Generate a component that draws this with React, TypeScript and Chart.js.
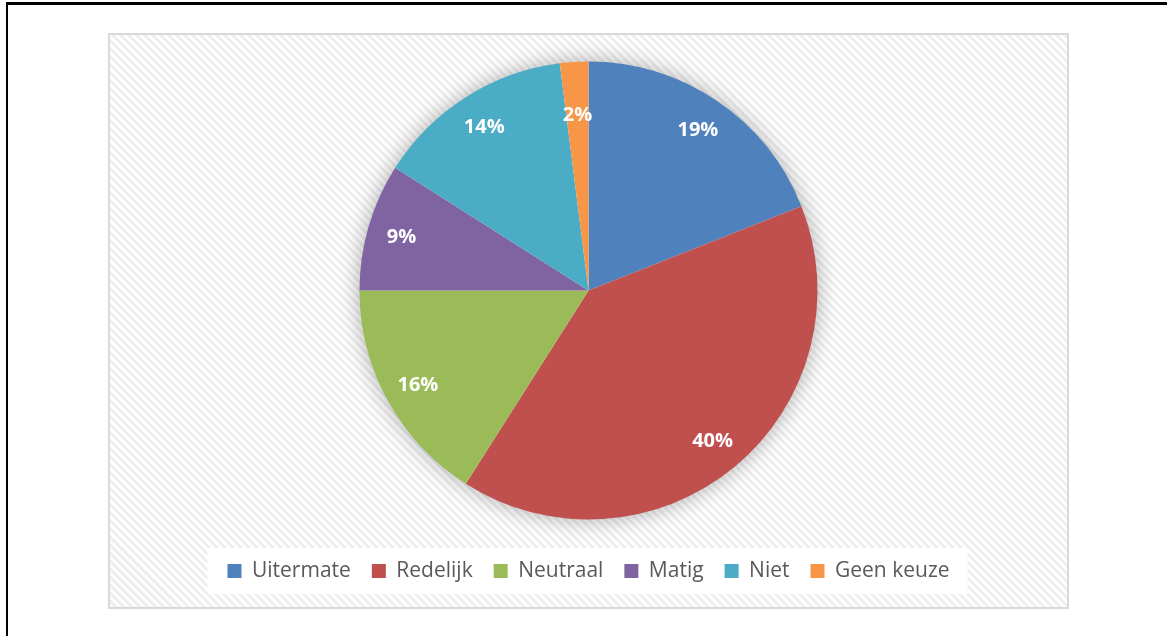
import React, { useEffect, useRef } from "react";
import { Chart, registerables } from "chart.js";

Chart.register(...registerables);

const categories = ["Uitermate", "Redelijk", "Neutraal", "Matig", "Niet", "Geen keuze"];
const values = [19, 40, 16, 9, 14, 2];
const colors = ["#4f81bd", "#c0504d", "#9bbb59", "#8064a2", "#4bacc6", "#f79646"];

const shadowPlugin = {
  id: "pieShadow",
  beforeDatasetsDraw(chart: any) {
    const meta = chart.getDatasetMeta(0);
    const arc = meta.data[0];
    if (!arc) return;
    const { x, y, outerRadius } = arc.getProps(["x", "y", "outerRadius"], true);
    const ctx = chart.ctx;
    ctx.save();
    ctx.shadowColor = "rgba(0,0,0,0.35)";
    ctx.shadowBlur = 22;
    ctx.shadowOffsetX = 0;
    ctx.shadowOffsetY = 0;
    ctx.beginPath();
    ctx.arc(x, y, outerRadius - 1, 0, Math.PI * 2);
    ctx.fillStyle = "#ffffff";
    ctx.fill();
    ctx.restore();
  },
};

const legendBgPlugin = {
  id: "legendBg",
  beforeDraw(chart: any) {
    const lg = chart.legend;
    if (!lg || !lg.legendHitBoxes || !lg.legendHitBoxes.length) return;
    const boxes = lg.legendHitBoxes;
    let minL = Infinity, maxR = -Infinity, top = Infinity, bottom = -Infinity;
    boxes.forEach((b: any) => {
      minL = Math.min(minL, b.left);
      maxR = Math.max(maxR, b.left + b.width);
      top = Math.min(top, b.top);
      bottom = Math.max(bottom, b.top + b.height);
    });
    const cy = (top + bottom) / 2;
    const ctx = chart.ctx;
    ctx.save();
    ctx.fillStyle = "#ffffff";
    ctx.fillRect(minL - 20, cy - 23, maxR - minL + 38, 46);
    ctx.restore();
  },
};

const labelPlugin = {
  id: "sliceLabels",
  afterDatasetsDraw(chart: any) {
    const meta = chart.getDatasetMeta(0);
    const ctx = chart.ctx;
    ctx.save();
    ctx.fillStyle = "#ffffff";
    ctx.font = "bold 20px 'Open Sans', sans-serif";
    ctx.textAlign = "center";
    ctx.textBaseline = "middle";
    meta.data.forEach((arc: any, i: number) => {
      const { x, y, startAngle, endAngle, outerRadius } = arc.getProps(
        ["x", "y", "startAngle", "endAngle", "outerRadius"],
        true
      );
      const mid = (startAngle + endAngle) / 2;
      const span = endAngle - startAngle;
      const f = span < 0.3 ? 0.77 : 0.85;
      const r = outerRadius * f;
      ctx.fillText(values[i] + "%", x + Math.cos(mid) * r, y + Math.sin(mid) * r + 1);
    });
    ctx.restore();
  },
};

export default function App() {
  const ref = useRef<HTMLCanvasElement | null>(null);

  useEffect(() => {
    if (!ref.current) return;
    const chart = new Chart(ref.current, {
      type: "pie",
      data: {
        labels: categories,
        datasets: [
          {
            data: values,
            backgroundColor: colors,
            borderWidth: 0,
            radius: 229,
          } as any,
        ],
      },
      options: {
        animation: false,
        responsive: false,
        maintainAspectRatio: false,
        layout: { padding: { top: 8.5, bottom: 17.5, left: 0, right: 0 } },
        plugins: {
          legend: {
            position: "bottom",
            labels: {
              boxWidth: 14,
              boxHeight: 14,
              padding: 21,
              color: "#595959",
              font: { family: "'Open Sans', sans-serif", size: 21 },
            },
          },
          tooltip: { enabled: false },
        },
      },
      plugins: [legendBgPlugin, shadowPlugin, labelPlugin],
    });
    return () => chart.destroy();
  }, []);

  return (
    <div
      style={{
        position: "absolute",
        left: 0,
        top: 0,
        width: 1167,
        height: 636,
        background: "#ffffff",
        overflow: "hidden",
      }}
    >
      <div style={{ position: "absolute", left: 6, top: 2, width: 1161, height: 3, background: "#000" }} />
      <div style={{ position: "absolute", left: 6, top: 2, width: 2, height: 634, background: "#000" }} />
      <div
        style={{
          position: "absolute",
          left: 108,
          top: 33,
          width: 961,
          height: 576,
          boxSizing: "border-box",
          border: "2px solid #d9d9d9",
          background:
            "repeating-linear-gradient(45deg, #ffffff 0px, #ffffff 2.8px, #efefef 2.8px, #efefef 5.66px)",
        }}
      />
      <canvas
        ref={ref}
        width={961}
        height={576}
        style={{ position: "absolute", left: 108, top: 33, width: 961, height: 576 }}
      />
    </div>
  );
}
